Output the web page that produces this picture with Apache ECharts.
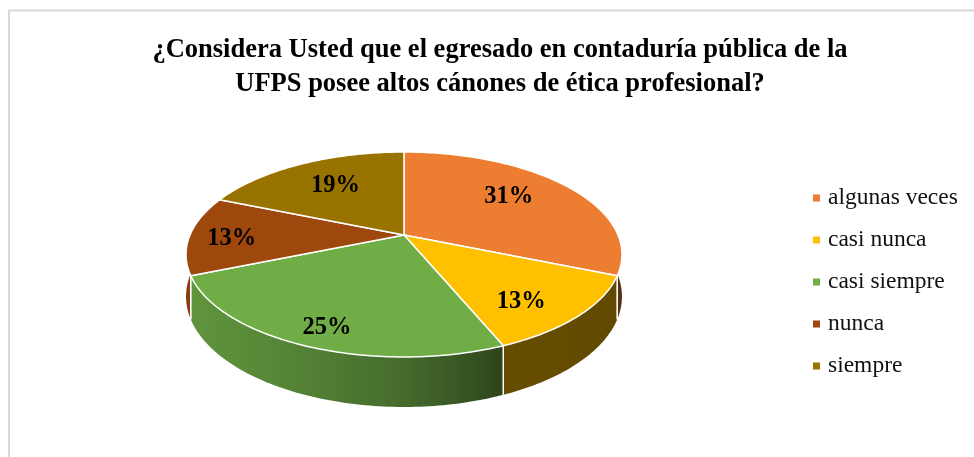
<!DOCTYPE html>
<html><head><meta charset="utf-8">
<script src="https://cdn.jsdelivr.net/npm/echarts@6/dist/echarts.min.js"></script>
<style>html,body{margin:0;padding:0;background:#fff}#c{width:974px;height:457px}</style>
</head><body><div id="c"></div>
<script>
// ---- data ----
const categories = ['algunas veces', 'casi nunca', 'casi siempre', 'nunca', 'siempre'];
const counts = [5, 2, 4, 2, 3];
const titleLines = ['¿Considera Usted que el egresado en contaduría pública de la', 'UFPS posee altos cánones de ética profesional?'];

// ---- style / layout ----
const colors = ['#ED7D31', '#FFC000', '#70AD47', '#9E480E', '#997300'];
const labelRadius = [0.67, 0.77, 0.85, 0.8, 0.65];
const labelAngleShift = [-4.3, 5.9, -1.4, -2.9, 0.8];
const CX = 404, CY = 235, A = 214, B = 98.8, P = 0.19, T = 40.5;
const shadeStops = [[186, 0.86], [300, 0.75], [404, 0.62], [470, 0.48], [500, 0.40], [622, 0.38]];

const total = counts.reduce((a, b) => a + b, 0);
const starts = [];
let acc = 0;
counts.forEach(v => { starts.push(acc / total * 360); acc += v; });
const pctLabels = counts.map(v => Math.round(v / total * 100) + '%');

function proj(deg, r, depth) {
  const t = deg * Math.PI / 180;
  const u = Math.sin(t) * r, v = -Math.cos(t) * r;
  const s = 1 / (1 - P * v);
  return [CX + A * u * s, CY + (B * v + depth) * s];
}
function shade(hex, f) {
  const n = parseInt(hex.slice(1), 16);
  const r = Math.round(((n >> 16) & 255) * f), g = Math.round(((n >> 8) & 255) * f), b = Math.round((n & 255) * f);
  return 'rgb(' + r + ',' + g + ',' + b + ')';
}
function wallGradient(hex) {
  return {
    type: 'linear', x: 186, y: 0, x2: 622, y2: 0, global: true,
    colorStops: shadeStops.map(([x, f]) => ({ offset: (x - 186) / 436, color: shade(hex, f) }))
  };
}

function makeRender(i) {
  return function () {
    const a0 = starts[i], a1 = starts[i] + counts[i] / total * 360;
    const children = [];
    const w0 = Math.max(a0, 75), w1 = Math.min(a1, 285);
    if (w1 > w0) {
      const top = [], bot = [];
      const n = Math.max(2, Math.ceil(w1 - w0));
      for (let k = 0; k <= n; k++) {
        const d = w0 + (w1 - w0) * k / n;
        top.push(proj(d, 1, 0));
        bot.push(proj(d, 1, T));
      }
      children.push({ type: 'polygon', z2: 1, shape: { points: top.concat(bot.reverse()) }, style: { fill: wallGradient(colors[i]) } });
    }
    [a0, a1].forEach(a => {
      if (a > 104 && a < 256) {
        const p0 = proj(a, 1, 0), p1 = proj(a, 1, T);
        children.push({ type: 'line', z2: 2, shape: { x1: p0[0], y1: p0[1], x2: p1[0], y2: p1[1] }, style: { stroke: '#fff', lineWidth: 1.2 } });
      }
    });
    const pts = [proj(0, 0, 0)];
    const n2 = Math.max(2, Math.ceil(a1 - a0));
    for (let k = 0; k <= n2; k++) pts.push(proj(a0 + (a1 - a0) * k / n2, 1, 0));
    children.push({ type: 'polygon', z2: 10, shape: { points: pts }, style: { fill: colors[i], stroke: '#fff', lineWidth: 1.5, lineJoin: 'round' } });
    const m = (a0 + a1) / 2 + labelAngleShift[i];
    const lp = proj(m, labelRadius[i], 0);
    children.push({
      type: 'text', z2: 20, x: lp[0], y: lp[1],
      style: { text: pctLabels[i], fill: '#000', fontFamily: 'Liberation Serif', fontWeight: 'bold', fontSize: 24.5, textAlign: 'center', textVerticalAlign: 'middle', align: 'center', verticalAlign: 'middle' }
    });
    return { type: 'group', children };
  };
}

const chart = echarts.init(document.getElementById('c'));
chart.setOption({
  animation: false,
  backgroundColor: '#fff',
  title: {
    text: titleLines.join('\n'), left: 495, top: 28, textAlign: 'center',
    textStyle: { fontFamily: 'Liberation Serif', fontWeight: 'bold', fontSize: 26.5, lineHeight: 34, color: '#000' }
  },
  legend: {
    data: categories, orient: 'vertical', left: 808, top: 181, itemGap: 18,
    icon: 'rect', itemWidth: 7, itemHeight: 7, selectedMode: false,
    textStyle: { fontFamily: 'Liberation Serif', fontSize: 23.5, lineHeight: 24, color: '#111', padding: [0, 0, 0, 3] }
  },
  graphic: [{ type: 'rect', shape: { x: 9, y: 10.5, width: 1100, height: 600 }, style: { fill: 'none', stroke: '#D9D9D9', lineWidth: 2 }, silent: true }],
  series: categories.map((name, i) => ({
    type: 'custom', name, coordinateSystem: 'none', silent: true,
    itemStyle: { color: colors[i] },
    data: [counts[i]],
    renderItem: makeRender(i)
  }))
});
</script></body></html>
